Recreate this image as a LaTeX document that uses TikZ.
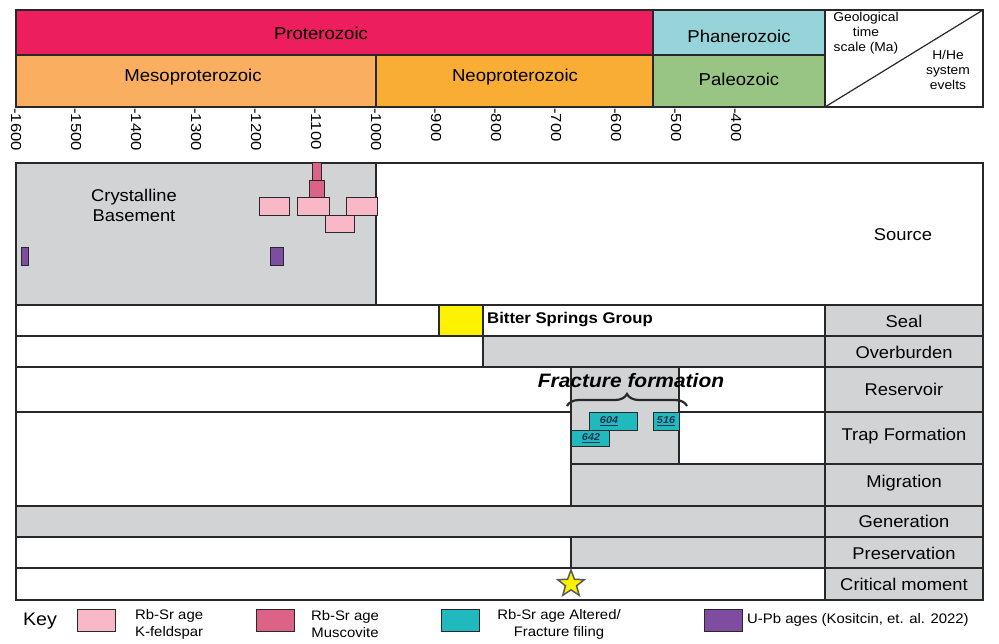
\documentclass[tikz,border=0pt]{standalone}
\usepackage{fontspec}
\setmainfont{Liberation Sans}[FakeStretch=1.08]
\newfontfamily\axisfont{Liberation Sans}[FakeStretch=1.15]
\usetikzlibrary{shapes.geometric,decorations.pathreplacing}
\definecolor{proto}{RGB}{237,30,94}
\definecolor{phan}{RGB}{150,212,218}
\definecolor{meso}{RGB}{249,175,95}
\definecolor{neo}{RGB}{249,173,52}
\definecolor{paleo}{RGB}{152,196,132}
\definecolor{graybg}{RGB}{209,211,212}
\definecolor{kfeld}{RGB}{248,184,200}
\definecolor{musc}{RGB}{220,98,135}
\definecolor{tealc}{RGB}{32,186,190}
\definecolor{purp}{RGB}{126,77,160}
\definecolor{yel}{RGB}{255,242,0}
\definecolor{linec}{RGB}{40,40,40}
\definecolor{numc}{RGB}{30,50,80}
\begin{document}
\begin{tikzpicture}[x=1pt,y=-1pt,
  hline/.style={draw=linec,line width=1.6pt},
  bline/.style={draw=linec,line width=1.2pt},
  agebox/.style={draw=linec,line width=1pt},
  era/.style={font=\fontsize{17.2}{20}\selectfont},
  lab/.style={font=\fontsize{17}{20}\selectfont},
  axlab/.style={font=\axisfont\fontsize{14.5}{17}\selectfont,rotate=-90,anchor=west,inner sep=0.5pt},
  small/.style={font=\fontsize{12.8}{15}\selectfont,align=center,inner sep=0pt},
  keytxt/.style={font=\fontsize{13.8}{17}\selectfont,inner sep=0pt},
  num/.style={font=\bfseries\itshape\fontsize{10}{11}\selectfont,text=numc,inner sep=0pt}]
\useasboundingbox (0,0) rectangle (999,644);
% ---------- header ----------
\fill[proto] (16,10) rectangle (653,55);
\fill[phan] (653,10) rectangle (825,55);
\fill[meso] (16,55) rectangle (376,107);
\fill[neo] (376,55) rectangle (653,107);
\fill[paleo] (653,55) rectangle (825,107);
\draw[hline] (16,55) -- (825,55);
\draw[hline] (653,10) -- (653,107);
\draw[hline] (376,55) -- (376,107);
\draw[hline] (825,10) -- (825,107);
\draw[bline] (825,107) -- (983,10);
\draw[hline] (16,10) rectangle (983,107);
\node[era] (prot) at (321,33) {Proterozoic};
\node[era] (phan) at (739,36) {Phanerozoic};
\node[era] (meso) at (193,77) {Mesoproterozoic};
\node[era] (neo) at (515,77) {Neoproterozoic};
\node[era] (pal) at (739,79) {Paleozoic};
\node[small] (gts) at (866,33) {Geological\\time\\scale (Ma)};
\node[small] (hhe) at (948,70) {H/He\\system\\evelts};
% ---------- axis ----------
\foreach \v [count=\i] in {1600,1500,1400,1300,1200,1100,1000,900,800,700,600,500,400}
  \node[axlab] (ax\i) at ({16+(1600-\v)*0.6},107.5) {-\v};
% ---------- body fills ----------
\fill[graybg] (16,163) rectangle (376,305);
\fill[yel] (439,305) rectangle (483,336);
\fill[graybg] (483,336) rectangle (825,367);
\fill[graybg] (571,367) rectangle (679,464);
\fill[graybg] (571,464) rectangle (825,506);
\fill[graybg] (16,506) rectangle (825,537);
\fill[graybg] (571,537) rectangle (825,568);
\fill[graybg] (825,305) rectangle (983,600);
% ---------- body lines ----------
\draw[bline] (376,163) -- (376,305);
\draw[bline] (16,305) -- (983,305);
\draw[bline] (16,336) -- (983,336);
\draw[bline] (16,367) -- (983,367);
\draw[bline] (16,412) -- (571,412);
\draw[bline] (679,412) -- (983,412);
\draw[bline] (571,464) -- (983,464);
\draw[bline] (16,506) -- (983,506);
\draw[bline] (16,537) -- (983,537);
\draw[bline] (16,568) -- (983,568);
\draw[bline] (825,305) -- (825,600);
\draw[bline] (439,305) -- (439,336);
\draw[bline] (483,305) -- (483,367);
\draw[bline] (571,367) -- (571,506);
\draw[bline] (679,367) -- (679,464);
\draw[bline] (571,537) -- (571,568);
\draw[hline] (16,163) rectangle (983,600);
% ---------- age boxes ----------
\draw[agebox,fill=musc] (312,163) rectangle (321,181);
\draw[agebox,fill=musc] (309,181) rectangle (324,198);
\draw[agebox,fill=kfeld] (259,198) rectangle (289,216);
\draw[agebox,fill=kfeld] (297,198) rectangle (329,216);
\draw[agebox,fill=kfeld] (346,198) rectangle (377,216);
\draw[agebox,fill=kfeld] (325,216) rectangle (354,233);
\draw[agebox,fill=purp] (21,248) rectangle (28,266);
\draw[agebox,fill=purp] (270,248) rectangle (283,266);
\draw[agebox,fill=tealc] (589,412) rectangle (637,430);
\draw[agebox,fill=tealc] (653,412) rectangle (679,430);
\draw[agebox,fill=tealc] (571,430) rectangle (609,446);
\node[num] (n604) at (609,421) {\underline{604}};
\node[num] (n516) at (666,421) {\underline{516}};
\node[num] (n642) at (591,438) {\underline{642}};
% ---------- texts ----------
\node[lab,align=center] (cb) at (134,205) {Crystalline\\Basement};
\node[lab] (src) at (903,235) {Source};
\node[font=\bfseries\fontsize{15.5}{18}\selectfont,anchor=west,inner sep=0pt] (bsg) at (487,320) {Bitter Springs Group};
\node[font=\bfseries\itshape\fontsize{19.4}{22}\selectfont] (ff) at (631,381) {Fracture formation};
\draw[decorate,decoration={brace,amplitude=12pt},line width=2.2pt,draw=linec] (567,406) -- (687,406);
\node[lab] (l1) at (904,321) {Seal};
\node[lab] (l2) at (904,352) {Overburden};
\node[lab] (l3) at (904,389) {Reservoir};
\node[lab] (l4) at (904,436) {Trap Formation};
\node[lab] (l5) at (904,483) {Migration};
\node[lab] (l6) at (904,521) {Generation};
\node[lab] (l7) at (904,553) {Preservation};
\node[lab] (l8) at (904,584) {Critical moment};
\node[star,star points=5,star point ratio=2.4,minimum size=28pt,inner sep=0pt,fill=yel,draw=gray!70!black,line width=1.5pt] (star) at (571,584) {};
% ---------- key ----------
\node[font=\fontsize{18.2}{21}\selectfont,inner sep=0pt] (key) at (40,621) {Key};
\draw[agebox,fill=kfeld] (77,609) rectangle (115,631);
\draw[agebox,fill=musc] (256,609) rectangle (294,631);
\draw[agebox,fill=tealc] (441,609) rectangle (479,631);
\draw[agebox,fill=purp] (704,609) rectangle (742,631);
\node[keytxt,align=left,anchor=west] (k1) at (135,624) {Rb-Sr age\\K-feldspar};
\node[keytxt,align=center] (k2) at (345,624) {Rb-Sr age\\Muscovite};
\node[keytxt,align=center] (k3) at (559,624) {Rb-Sr age Altered/\\Fracture filing};
\node[keytxt,anchor=west] (k4) at (747,620) {U-Pb ages (Kositcin, et. al. 2022)};
\end{tikzpicture}
\end{document}
